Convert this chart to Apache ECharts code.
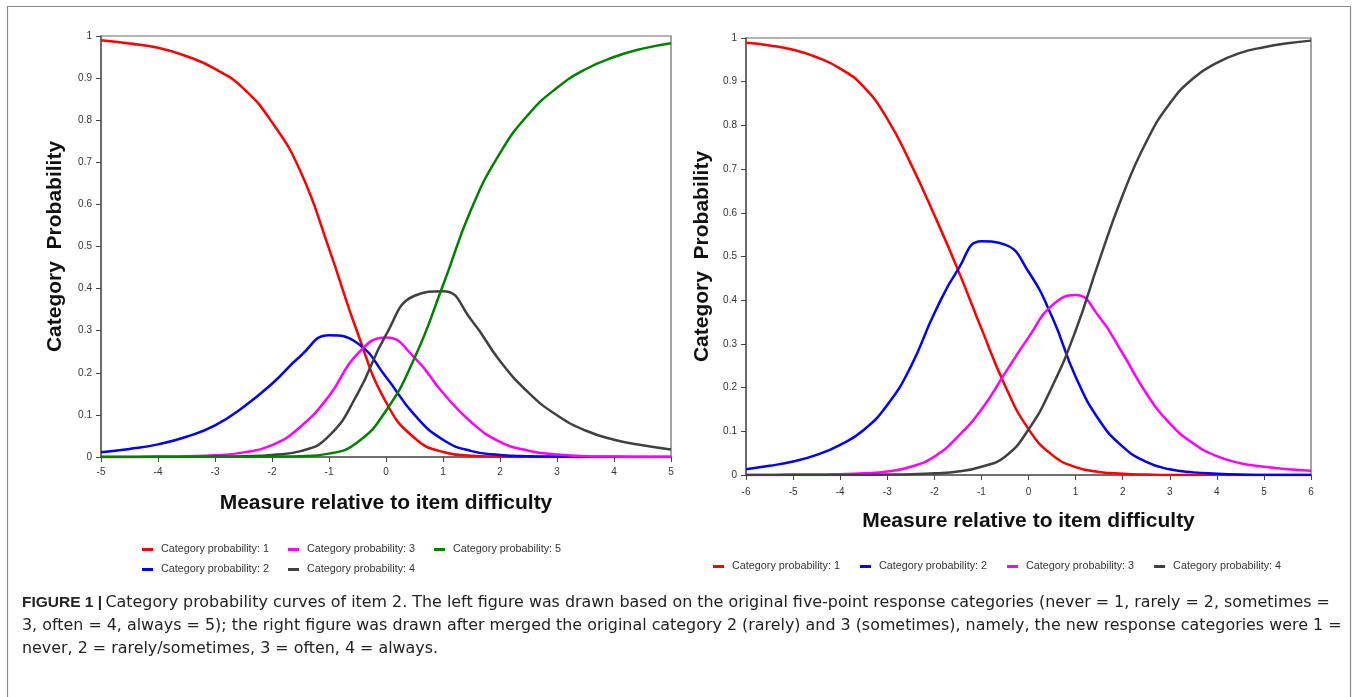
<!DOCTYPE html>
<html>
<head>
<meta charset="utf-8">
<style>
html,body{margin:0;padding:0;background:#fff;}
#chart{width:1357px;height:697px;}
</style>
<script src="https://cdn.jsdelivr.net/npm/echarts@6/dist/echarts.min.js"></script>
</head>
<body>
<div id="chart"></div>
<script>
// ---- Left figure (five categories), x = -5 .. 5 step 0.5 ----
const leftX = [-5,-4.5,-4,-3.5,-3,-2.5,-2,-1.5,-1,-0.5,0,0.5,1,1.5,2,2.5,3,3.5,4,4.5,5];
const leftCat1 = [0.990,0.982,0.972,0.952,0.922,0.875,0.795,0.678,0.495,0.295,0.130,0.045,0.012,0.003,0.001,0,0,0,0,0,0];
const leftCat2 = [0.011,0.019,0.030,0.048,0.075,0.119,0.174,0.240,0.289,0.270,0.190,0.100,0.041,0.014,0.005,0.002,0.001,0,0,0,0];
const leftCat3 = [0,0,0.001,0.002,0.004,0.011,0.028,0.072,0.145,0.245,0.284,0.236,0.152,0.082,0.036,0.015,0.006,0.002,0.001,0,0];
const leftCat4 = [0,0,0,0,0.001,0.002,0.005,0.014,0.050,0.150,0.290,0.383,0.394,0.325,0.228,0.153,0.099,0.063,0.041,0.028,0.018];
const leftCat5 = [0,0,0,0,0,0,0.001,0.002,0.008,0.035,0.110,0.235,0.408,0.590,0.722,0.814,0.877,0.921,0.950,0.970,0.983];

// ---- Right figure (four categories), x = -6 .. 6 step 0.5 ----
const rightX = [-6,-5.5,-5,-4.5,-4,-3.5,-3,-2.5,-2,-1.5,-1,-0.5,0,0.5,1,1.5,2,2.5,3,3.5,4,4.5,5,5.5,6];
const rightCat1 = [0.989,0.983,0.973,0.956,0.930,0.888,0.815,0.712,0.595,0.470,0.335,0.205,0.105,0.046,0.018,0.007,0.003,0.001,0,0,0,0,0,0,0];
const rightCat2 = [0.013,0.021,0.031,0.046,0.069,0.103,0.160,0.248,0.370,0.470,0.535,0.527,0.465,0.362,0.225,0.126,0.065,0.030,0.013,0.006,0.003,0.001,0,0,0];
const rightCat3 = [0,0,0.001,0.001,0.002,0.004,0.008,0.019,0.042,0.088,0.150,0.233,0.315,0.388,0.412,0.362,0.278,0.187,0.118,0.072,0.043,0.027,0.019,0.013,0.010];
const rightCat4 = [0,0,0,0,0,0,0.001,0.002,0.004,0.008,0.019,0.042,0.104,0.202,0.330,0.490,0.640,0.762,0.850,0.908,0.943,0.966,0.979,0.988,0.994];

const seriesNames = ['Category probability: 1','Category probability: 2','Category probability: 3','Category probability: 4','Category probability: 5'];
const seriesColors = ['#ff0000','#0000ff','#ff00ff','#404040','#008000'];

const captionLines = [
  'Category probability curves of item 2. The left figure was drawn based on the original five-point response categories (never = 1, rarely = 2, sometimes =',
  '3, often = 4, always = 5); the right figure was drawn after merged the original category 2 (rarely) and 3 (sometimes), namely, the new response categories were 1 =',
  'never, 2 = rarely/sometimes, 3 = often, 4 = always.'
];

const FONT = '"Liberation Sans", Arial, sans-serif';
const CAPFONT = '"DejaVu Sans", sans-serif';

function pairs(xs, ys){ return xs.map((x,i)=>[x, ys[i]]); }

function mkSeries(name, idx, xs, ys, axisIdx){
  return {
    name: name, type: 'line', xAxisIndex: axisIdx, yAxisIndex: axisIdx,
    data: pairs(xs, ys), showSymbol: false, smooth: 0.5,
    lineStyle: {color: seriesColors[idx], width: 2.5},
    itemStyle: {color: seriesColors[idx]},
    emphasis: {disabled: true}, animation: false
  };
}

function xAxisCfg(gridIndex, mn, mx, margin){
  return {
    type: 'value', gridIndex: gridIndex, min: mn, max: mx, interval: 1,
    name: 'Measure relative to item difficulty', nameLocation: 'middle', nameGap: 36,
    nameTextStyle: {fontFamily: FONT, fontWeight: 'bold', fontSize: 21, color: '#111'},
    axisLine: {show: true, onZero: false, lineStyle: {color: '#5a5a5a', width: 1.5}},
    axisTick: {show: true, inside: false, length: 5, lineStyle: {color: '#444'}},
    axisLabel: {fontFamily: FONT, fontSize: 10, color: '#333', margin: margin},
    splitLine: {show: false}
  };
}
function yAxisCfg(gridIndex, gap){
  return {
    type: 'value', gridIndex: gridIndex, min: 0, max: 1, interval: 0.1,
    name: 'Category  Probability', nameLocation: 'middle', nameGap: gap,
    nameTextStyle: {fontFamily: FONT, fontWeight: 'bold', fontSize: 21, color: '#111'},
    axisLine: {show: true, onZero: false, lineStyle: {color: '#5a5a5a', width: 1.5}},
    axisTick: {show: true, inside: false, length: 5, lineStyle: {color: '#444'}},
    axisLabel: {fontFamily: FONT, fontSize: 10, color: '#333', margin: 9,
      formatter: v => String(Math.round(v*10)/10)},
    splitLine: {show: false}
  };
}

const legendText = {fontFamily: FONT, fontSize: 10.8, color: '#333', padding: [0,0,0,3]};
const legendBase = {icon: 'rect', itemWidth: 11, itemHeight: 3, padding: 0, itemGap: 19,
  textStyle: legendText, selectedMode: false, orient: 'horizontal'};

const option = {
  backgroundColor: '#fff',
  animation: false,
  grid: [
    {left: 101, top: 36, width: 570, height: 421, show: true, borderColor: '#666', borderWidth: 1.2, containLabel: false},
    {left: 746, top: 38, width: 565, height: 437, show: true, borderColor: '#666', borderWidth: 1.2, containLabel: false}
  ],
  xAxis: [xAxisCfg(0, -5, 5, 10), xAxisCfg(1, -6, 6, 12)],
  yAxis: [yAxisCfg(0, 35), yAxisCfg(1, 33)],
  legend: [
    Object.assign({}, legendBase, {left: 142, top: 544, data: [seriesNames[0], seriesNames[2], seriesNames[4]]}),
    Object.assign({}, legendBase, {left: 142, top: 564, data: [seriesNames[1], seriesNames[3]]}),
    Object.assign({}, legendBase, {left: 713, top: 561, itemGap: 20, data: [seriesNames[0], seriesNames[1], seriesNames[2], seriesNames[3]]})
  ],
  series: [
    mkSeries(seriesNames[0], 0, leftX, leftCat1, 0),
    mkSeries(seriesNames[1], 1, leftX, leftCat2, 0),
    mkSeries(seriesNames[2], 2, leftX, leftCat3, 0),
    mkSeries(seriesNames[3], 3, leftX, leftCat4, 0),
    mkSeries(seriesNames[4], 4, leftX, leftCat5, 0),
    mkSeries(seriesNames[0], 0, rightX, rightCat1, 1),
    mkSeries(seriesNames[1], 1, rightX, rightCat2, 1),
    mkSeries(seriesNames[2], 2, rightX, rightCat3, 1),
    mkSeries(seriesNames[3], 3, rightX, rightCat4, 1)
  ],
  graphic: [
    {type: 'rect', silent: true, z: -1, shape: {x: 7.5, y: 6.5, width: 1343, height: 720},
      style: {fill: 'none', stroke: '#8a8a8a', lineWidth: 1.2}},
    {type: 'text', left: 22, top: 595, silent: true,
      style: {text: '{b|FIGURE 1 |} {n|' + captionLines[0] + '}',
        rich: {b: {fontFamily: FONT, fontWeight: 'bold', fontSize: 15.5, fill: '#222'},
               n: {fontFamily: CAPFONT, fontSize: 15.9, fill: '#222'}}}},
    {type: 'text', left: 22, top: 618, silent: true,
      style: {text: captionLines[1], fontFamily: CAPFONT, fontSize: 15.9, fill: '#222'}},
    {type: 'text', left: 22, top: 641, silent: true,
      style: {text: captionLines[2], fontFamily: CAPFONT, fontSize: 15.9, fill: '#222'}}
  ]
};

const chart = echarts.init(document.getElementById('chart'), null, {renderer: 'canvas'});
chart.setOption(option);
</script>
</body>
</html>
